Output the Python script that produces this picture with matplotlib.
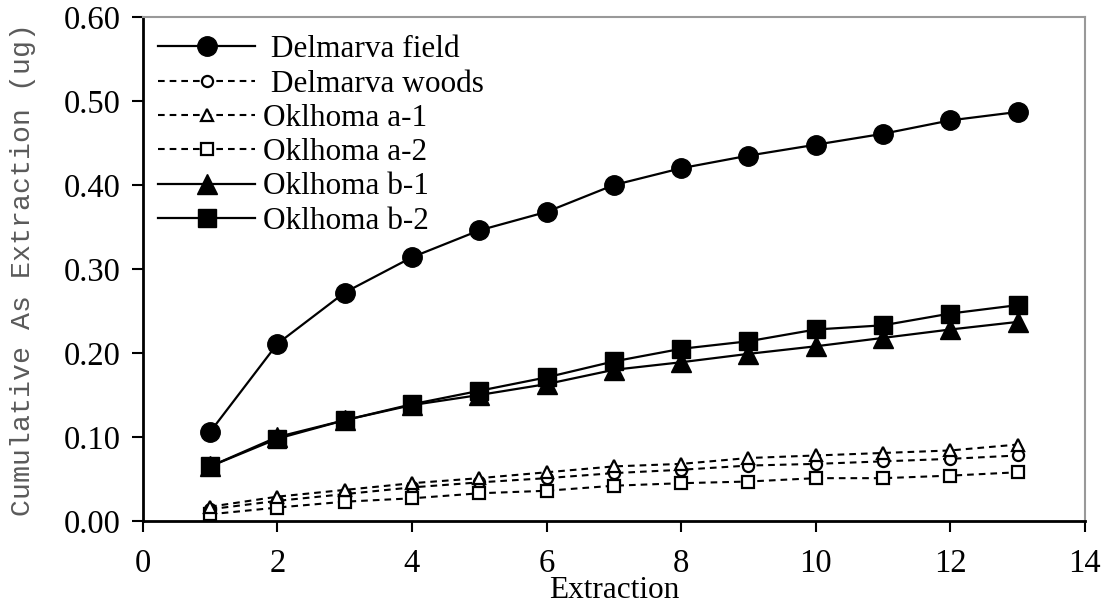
import matplotlib
matplotlib.use("Agg")
from matplotlib import pyplot as plt

extraction = list(range(1, 14))

delmarva_field = [0.106, 0.211, 0.272, 0.314, 0.346, 0.368, 0.400, 0.420, 0.435, 0.448, 0.461, 0.477, 0.487]
delmarva_woods = [0.014, 0.024, 0.032, 0.040, 0.046, 0.051, 0.057, 0.061, 0.066, 0.068, 0.071, 0.074, 0.078]
oklhoma_a1 = [0.017, 0.029, 0.037, 0.045, 0.051, 0.058, 0.065, 0.068, 0.075, 0.078, 0.081, 0.084, 0.091]
oklhoma_a2 = [0.008, 0.016, 0.023, 0.027, 0.033, 0.036, 0.042, 0.045, 0.047, 0.051, 0.051, 0.054, 0.058]
oklhoma_b1 = [0.065, 0.100, 0.120, 0.138, 0.150, 0.163, 0.180, 0.189, 0.199, 0.208, 0.218, 0.228, 0.237]
oklhoma_b2 = [0.065, 0.098, 0.120, 0.139, 0.155, 0.171, 0.190, 0.205, 0.214, 0.228, 0.233, 0.247, 0.257]

x_ticks = [0, 2, 4, 6, 8, 10, 12, 14]
y_ticks = [0.0, 0.1, 0.2, 0.3, 0.4, 0.5, 0.6]

plt.rcParams['font.family'] = ['Liberation Serif', 'DejaVu Serif']

fig = plt.figure(figsize=(11.07, 6.09), dpi=100)
ax = fig.add_axes([0.129, 0.1445, 0.851, 0.8275])

dash = (0, (3.2, 2.4))
ax.plot(extraction, delmarva_field, color='black', lw=1.6, marker='o', ms=14,
        label=' Delmarva field', zorder=5)
ax.plot(extraction, delmarva_woods, color='black', lw=1.5, ls=dash, marker='o', ms=8,
        mfc='white', mew=1.6, label=' Delmarva woods', zorder=3)
ax.plot(extraction, oklhoma_a1, color='black', lw=1.5, ls=dash, marker='^', ms=9,
        mfc='white', mew=1.6, label='Oklhoma a-1', zorder=4)
ax.plot(extraction, oklhoma_a2, color='black', lw=1.5, ls=dash, marker='s', ms=8,
        mfc='white', mew=1.6, label='Oklhoma a-2', zorder=3)
ax.plot(extraction, oklhoma_b1, color='black', lw=1.6, marker='^', ms=15,
        label='Oklhoma b-1', zorder=5)
ax.plot(extraction, oklhoma_b2, color='black', lw=1.6, marker='s', ms=13,
        label='Oklhoma b-2', zorder=5)

ax.set_xlim(0, 14)
ax.set_ylim(0, 0.6)
ax.set_xticks(x_ticks)
ax.set_yticks(y_ticks)
ax.set_yticklabels([f'{v:.2f}' for v in y_ticks])
ax.tick_params(direction='out', length=8, width=1.5, labelsize=23.5, colors='black')
ax.tick_params(axis='x', pad=12)
ax.tick_params(axis='y', pad=8)

for side in ['left', 'bottom']:
    ax.spines[side].set_linewidth(2)
    ax.spines[side].set_color('black')
for side in ['top', 'right']:
    ax.spines[side].set_linewidth(1.5)
    ax.spines[side].set_color('#999999')

ax.set_xlabel('Extraction', fontsize=22.5, labelpad=-2)
ax.set_ylabel('Cumulative As Extraction (ug)', fontsize=20.3, color='#5a5a5a',
              family=['Liberation Mono', 'DejaVu Sans Mono'], labelpad=20)

ax.legend(loc='upper left', frameon=False, fontsize=22.5, handlelength=3.1,
          handletextpad=0.25, labelspacing=0.17, borderaxespad=0.1,
          bbox_to_anchor=(0.0, 0.995))

fig.savefig('out.png', dpi=100)
